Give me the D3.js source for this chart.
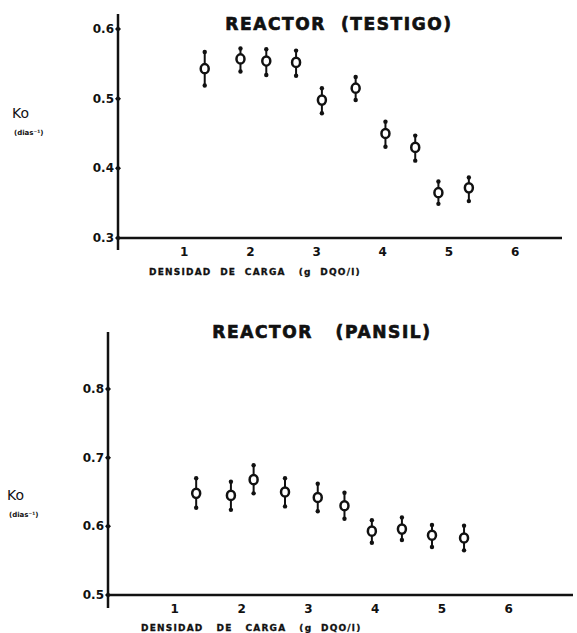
<!DOCTYPE html>
<html>
<head>
<meta charset="utf-8">
<script src="https://cdn.jsdelivr.net/npm/d3@7"></script>
<style>
  body { margin: 0; background: #fff; }
  text { font-family: "DejaVu Sans", Arial, sans-serif; font-weight: bold; fill: #111; }
</style>
</head>
<body>
<div id="chart"></div>
<script>
// Data
var xTicks = [1, 2, 3, 4, 5, 6];

var testigoX    = [1.31, 1.85, 2.24, 2.69, 3.08, 3.59, 4.04, 4.49, 4.84, 5.30];
var testigoK    = [0.543, 0.557, 0.554, 0.552, 0.498, 0.515, 0.450, 0.430, 0.365, 0.372];
var testigoHigh = [0.567, 0.572, 0.571, 0.569, 0.515, 0.531, 0.467, 0.447, 0.381, 0.387];
var testigoLow  = [0.519, 0.539, 0.534, 0.533, 0.479, 0.498, 0.431, 0.411, 0.349, 0.353];
var testigoYTicks = [0.3, 0.4, 0.5, 0.6];

var pansilX    = [1.32, 1.84, 2.18, 2.65, 3.14, 3.54, 3.95, 4.40, 4.85, 5.33];
var pansilK    = [0.648, 0.645, 0.668, 0.650, 0.642, 0.630, 0.593, 0.596, 0.587, 0.583];
var pansilHigh = [0.670, 0.665, 0.689, 0.670, 0.662, 0.649, 0.609, 0.613, 0.602, 0.601];
var pansilLow  = [0.627, 0.624, 0.648, 0.629, 0.622, 0.611, 0.576, 0.580, 0.570, 0.565];
var pansilYTicks = [0.5, 0.6, 0.7, 0.8];

var svg = d3.select("#chart")
  .append("svg")
  .attr("width", 577)
  .attr("height", 633);

function drawPanel(cfg) {
  var x = d3.scaleLinear().domain([0, 1]).range([cfg.x0, cfg.x0 + cfg.unit]);
  var y = d3.scaleLinear().domain(cfg.yDomain).range(cfg.yRange);
  var g = svg.append("g");

  // x axis line
  g.append("line")
    .attr("x1", cfg.x0).attr("x2", cfg.xEnd)
    .attr("y1", y(cfg.yDomain[0])).attr("y2", y(cfg.yDomain[0]))
    .attr("stroke", "#111").attr("stroke-width", 2.5);

  // y axis line
  g.append("line")
    .attr("x1", cfg.x0).attr("x2", cfg.x0)
    .attr("y1", cfg.yTop).attr("y2", cfg.yBottom)
    .attr("stroke", "#111").attr("stroke-width", 2.5);

  // y ticks
  g.selectAll(".yt").data(cfg.yTicks).enter().append("path")
    .attr("d", d => `M${cfg.x0 - 3},${y(d)} L${cfg.x0},${y(d) - 3} L${cfg.x0 + 3},${y(d)} L${cfg.x0},${y(d) + 3} Z`)
    .attr("fill", "#111");

  g.selectAll(".ytl").data(cfg.yTicks).enter().append("text")
    .attr("x", cfg.x0 - 4)
    .attr("y", d => y(d) + 4)
    .attr("text-anchor", "end")
    .style("font-size", "12px")
    .text(d => d.toFixed(1));

  // x tick labels
  g.selectAll(".xtl").data(xTicks).enter().append("text")
    .attr("x", d => x(d))
    .attr("y", y(cfg.yDomain[0]) + 18)
    .attr("text-anchor", "middle")
    .style("font-size", "12px")
    .text(d => d);

  // error bars
  var idx = d3.range(cfg.xs.length);
  g.selectAll(".eb").data(idx).enter().append("line")
    .attr("x1", i => x(cfg.xs[i])).attr("x2", i => x(cfg.xs[i]))
    .attr("y1", i => y(cfg.hi[i])).attr("y2", i => y(cfg.lo[i]))
    .attr("stroke", "#111").attr("stroke-width", 2);

  g.selectAll(".ebh").data(idx).enter().append("circle")
    .attr("cx", i => x(cfg.xs[i])).attr("cy", i => y(cfg.hi[i]))
    .attr("r", 2.2).attr("fill", "#111");
  g.selectAll(".ebl").data(idx).enter().append("circle")
    .attr("cx", i => x(cfg.xs[i])).attr("cy", i => y(cfg.lo[i]))
    .attr("r", 2.2).attr("fill", "#111");

  // points
  g.selectAll(".pt").data(idx).enter().append("ellipse")
    .attr("cx", i => x(cfg.xs[i])).attr("cy", i => y(cfg.ks[i]))
    .attr("rx", 4).attr("ry", 4.6)
    .attr("fill", "#fff").attr("stroke", "#111").attr("stroke-width", 2.5);

  // title
  g.append("text")
    .attr("x", cfg.titleX).attr("y", cfg.titleY)
    .attr("text-anchor", "middle")
    .style("font-size", "17px")
    .style("font-weight", "900")
    .style("letter-spacing", "1.6px")
    .style("stroke", "#111").style("stroke-width", "0.7px")
    .attr("xml:space", "preserve")
    .text(cfg.title);

  // y label
  g.append("text")
    .attr("x", cfg.ylabX).attr("y", cfg.ylabY)
    .style("font-size", "14px")
    .style("font-weight", "normal")
    .text("Ko");
  g.append("text")
    .attr("x", cfg.ylabX + 2).attr("y", cfg.ylabY + 17)
    .style("font-size", "7px")
    .text("(dias⁻¹)");

  // x label
  g.append("text")
    .attr("x", cfg.xlabX).attr("y", cfg.xlabY)
    .style("font-size", "9px")
    .style("letter-spacing", "1.2px")
    .style("stroke", "#111").style("stroke-width", "0.3px")
    .attr("xml:space", "preserve")
    .text(cfg.xlab);
}

drawPanel({
  x0: 118, unit: 66.2, xEnd: 562,
  yDomain: [0.3, 0.6], yRange: [238, 29], yTop: 14, yBottom: 250,
  yTicks: testigoYTicks,
  xs: testigoX, ks: testigoK, hi: testigoHigh, lo: testigoLow,
  title: "REACTOR  (TESTIGO)", titleX: 339, titleY: 30,
  ylabX: 12, ylabY: 118,
  xlab: "DENSIDAD  DE  CARGA   (g  DQO/l)", xlabX: 149, xlabY: 275
});

drawPanel({
  x0: 108, unit: 66.8, xEnd: 573,
  yDomain: [0.5, 0.8], yRange: [595, 389], yTop: 332, yBottom: 608,
  yTicks: pansilYTicks,
  xs: pansilX, ks: pansilK, hi: pansilHigh, lo: pansilLow,
  title: "REACTOR   (PANSIL)", titleX: 322, titleY: 338,
  ylabX: 7, ylabY: 500,
  xlab: "DENSIDAD   DE   CARGA   (g  DQO/l)", xlabX: 141, xlabY: 631
});
</script>
</body>
</html>
